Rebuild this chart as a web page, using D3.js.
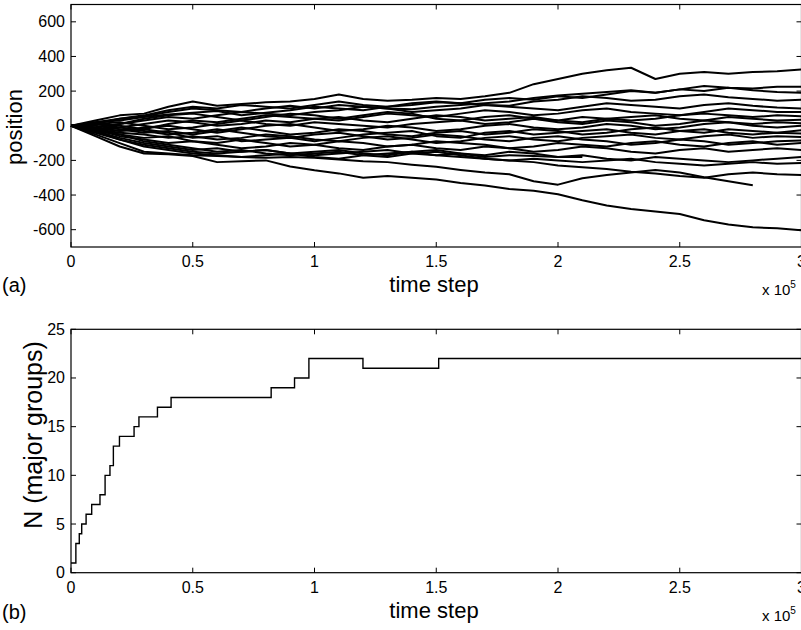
<!DOCTYPE html>
<html>
<head>
<meta charset="utf-8">
<script src="https://cdn.jsdelivr.net/npm/d3@7"></script>
<style>
  body { margin: 0; background: #fff; }
  svg { display: block; font-family: "Liberation Sans", Arial, sans-serif; }
</style>
</head>
<body>
<div id="chart"></div>
<script>
// time axis in units of 1e5 steps
const timeSteps = [0,0.1,0.2,0.3,0.4,0.5,0.6,0.7,0.8,0.9,1.0,1.1,1.2,1.3,1.4,1.5,1.6,1.7,1.8,1.9,2.0,2.1,2.2,2.3,2.4,2.5,2.6,2.7,2.8,2.9,3.0];

// (a) positions of the major groups
const walk1  = [0,30,60,70,110,140,115,125,135,140,155,180,155,145,150,160,155,170,190,240,270,300,320,335,270,300,310,300,310,315,325];
const walk2  = [0,10,40,55,80,100,90,80,100,115,100,120,110,100,95,110,120,130,140,160,175,185,195,205,190,210,200,220,205,195,190];
const walk3  = [0,20,30,50,65,75,85,60,75,90,110,100,90,110,120,135,130,120,115,140,150,170,160,145,150,170,180,165,155,145,150];
const walk4  = [0,-10,10,30,50,40,60,80,70,60,80,90,110,100,80,90,100,120,110,100,90,110,130,120,110,100,120,130,115,105,100];
const walk5  = [0,10,0,-20,10,30,20,40,60,50,40,30,50,70,60,50,70,90,80,60,70,90,100,80,70,60,80,100,90,80,80];
const walk6  = [0,-20,-10,10,30,20,0,10,30,20,40,50,30,20,40,60,50,30,40,50,30,20,40,50,60,40,30,50,40,30,35];
const walk7  = [0,10,20,0,-20,-10,10,30,10,0,20,10,0,-10,10,20,30,10,20,40,30,50,40,30,40,60,70,60,50,60,55];
const walk8  = [0,-10,-30,-10,0,-20,-40,-20,0,10,-10,-30,-20,0,-10,-30,-20,0,10,-10,-20,-10,10,0,-20,-10,10,20,0,-10,0];
const walk9  = [0,0,-20,-40,-30,-50,-30,-10,-30,-50,-40,-20,-30,-50,-60,-40,-30,-50,-40,-20,-30,-50,-40,-20,-10,-30,-40,-20,-30,-40,-25];
const walk10 = [0,-20,-40,-50,-70,-60,-80,-70,-50,-60,-80,-90,-70,-60,-80,-100,-90,-70,-60,-80,-90,-70,-60,-50,-70,-80,-60,-50,-70,-60,-65];
const walk11 = [0,-30,-50,-70,-60,-90,-100,-80,-100,-120,-110,-90,-100,-120,-110,-90,-100,-110,-130,-120,-100,-110,-120,-100,-90,-110,-120,-100,-90,-110,-100];
const walk12 = [0,-20,-60,-80,-100,-90,-110,-130,-120,-100,-110,-130,-140,-120,-110,-130,-140,-120,-130,-150,-140,-120,-130,-150,-160,-140,-130,-150,-140,-130,-140];
const walk13 = [0,-30,-70,-100,-120,-140,-130,-150,-140,-160,-150,-140,-160,-170,-150,-140,-160,-170,-150,-160,-180,-170,-190,-200,-180,-190,-200,-210,-200,-190,-180];
const walk14 = [0,-40,-80,-120,-140,-160,-170,-180,-170,-160,-180,-190,-170,-160,-150,-170,-180,-190,-200,-190,-200,-210,-200,-190,-210,-220,-230,-220,-210,-220,-215];
const walk15 = [0,-50,-100,-150,-160,-170,-175,-180,-185,-180,-185,-195,-205,-210,-225,-237,-255,-270,-280,-320,-340,-303,-285,-270,-256,-270,-297,-320,-343,null,null];
const walk16 = [0,-60,-120,-160,-165,-175,-210,-205,-200,-235,-257,-275,-300,-290,-300,-310,-330,-345,-365,-375,-395,-430,-460,-480,-495,-510,-546,-570,-586,-592,-604];
const walk17 = [0,-20,-50,-90,-110,-130,-150,-140,-160,-170,-160,-150,-170,-180,-160,-150,-170,-190,-200,-210,-230,-240,-250,-265,-275,-290,-300,-280,-270,-280,-285];
const walk18 = [0,-30,-80,-110,-130,-150,-160,-150,-140,-160,-170,-160,-150,-140,-160,-170,-160,-180,-170,-175,-180,-181,null,null,null,null,null,null,null,null,null];
const walk19 = [0,20,40,60,90,110,100,120,110,100,120,140,120,110,130,140,130,150,160,150,170,160,180,200,190,210,230,220,215,225,225];
const walk20 = [0,10,-10,-30,-50,-40,-20,-40,-60,-70,-50,-40,-60,-80,-70,-50,-60,-80,-90,-70,-60,-80,-90,-110,-100,-80,-90,-110,-100,-90,-85];
const walk21 = [0,-10,10,40,60,70,50,30,50,70,60,40,60,80,70,40,30,50,60,40,20,10,30,20,0,10,30,20,10,20,15];
const walk22 = [0,-15,-30,-20,-40,-70,-60,-90,-80,-70,-90,-70,-50,-40,-30,-60,-70,-40,-30,-50,-40,-30,-20,-40,-50,-30,-20,-40,-50,-40,-45];

const walks = [walk1,walk2,walk3,walk4,walk5,walk6,walk7,walk8,walk9,walk10,walk11,
  walk12,walk13,walk14,walk15,walk16,walk17,walk18,walk19,walk20,walk21,walk22];

// (b) number of major groups: step changes
const stepTimes  = [0,0.02,0.034,0.044,0.062,0.085,0.119,0.14,0.16,0.174,0.199,0.259,0.279,0.355,0.411,0.822,0.918,0.977,1.199,1.51,3.0];
const stepCounts = [1,3,4,5,6,7,8,10,11,13,14,15,16,17,18,19,20,22,21,22,22];

const xTicks = [0,0.5,1,1.5,2,2.5,3];
const posTicks = [-600,-400,-200,0,200,400,600];
const nTicks = [0,5,10,15,20,25];

const width = 801, height = 630;
const svg = d3.select("#chart").append("svg")
  .attr("width", width)
  .attr("height", height);

const x = d3.scaleLinear().domain([0, 3]).range([71, 801.5]);
const yA = d3.scaleLinear().domain([-700, 700]).range([247, 4.5]);
const yB = d3.scaleLinear().domain([0, 25]).range([572.7, 329.3]);

function panel(y, yTickVals, top, bottom) {
  const g = svg.append("g");
  // box
  g.append("rect")
    .attr("x", x(0)).attr("y", top)
    .attr("width", x(3) - x(0)).attr("height", bottom - top)
    .attr("fill", "none").attr("stroke", "#000").attr("stroke-width", 1.2);
  const tl = 5;
  // x ticks bottom & top, inward
  xTicks.forEach(t => {
    g.append("line").attr("x1", x(t)).attr("x2", x(t)).attr("y1", bottom).attr("y2", bottom - tl)
      .attr("stroke", "#000");
    g.append("line").attr("x1", x(t)).attr("x2", x(t)).attr("y1", top).attr("y2", top + tl)
      .attr("stroke", "#000");
    g.append("text").attr("x", x(t)).attr("y", bottom + 20)
      .attr("text-anchor", "middle").attr("font-size", 16).text(t);
  });
  yTickVals.forEach(t => {
    g.append("line").attr("x1", x(0)).attr("x2", x(0) + tl).attr("y1", y(t)).attr("y2", y(t))
      .attr("stroke", "#000");
    g.append("line").attr("x1", x(3)).attr("x2", x(3) - tl).attr("y1", y(t)).attr("y2", y(t))
      .attr("stroke", "#000");
    g.append("text").attr("x", x(0) - 6).attr("y", y(t) + 5.5)
      .attr("text-anchor", "end").attr("font-size", 16).text(t);
  });
  // x label and exponent
  g.append("text").attr("x", 434).attr("y", bottom + 45)
    .attr("text-anchor", "middle").attr("font-size", 22).text("time step");
  const ex = g.append("text").attr("x", 762).attr("y", bottom + 48).attr("font-size", 15);
  ex.append("tspan").text("x 10");
  ex.append("tspan").attr("dy", -7).attr("font-size", 10).text("5");
  return g;
}

// (a)
const gA = panel(yA, posTicks, 4.5, 247);
const lineA = d3.line()
  .defined(d => d[1] !== null)
  .x(d => x(d[0]))
  .y(d => yA(d[1]));
gA.append("g").selectAll("path")
  .data(walks)
  .enter()
  .append("path")
    .attr("d", w => lineA(w.map((v, i) => [timeSteps[i], v])))
    .attr("fill", "none")
    .attr("stroke", "#000")
    .attr("stroke-width", 2)
    .attr("stroke-linejoin", "round");
svg.append("text").attr("x", 2).attr("y", 292).attr("font-size", 20).text("(a)");
svg.append("text")
  .attr("transform", "translate(22,127) rotate(-90)")
  .attr("text-anchor", "middle").attr("font-size", 22).text("position");

// (b)
const gB = panel(yB, nTicks, 329.3, 572.7);
const lineB = d3.line()
  .curve(d3.curveStepAfter)
  .x(d => x(d[0]))
  .y(d => yB(d[1]));
gB.append("path")
  .attr("d", lineB(stepTimes.map((t, i) => [t, stepCounts[i]])))
  .attr("fill", "none")
  .attr("stroke", "#000")
  .attr("stroke-width", 1.4);
svg.append("text").attr("x", 2).attr("y", 619).attr("font-size", 20).text("(b)");
svg.append("text")
  .attr("transform", "translate(42,435) rotate(-90)")
  .attr("text-anchor", "middle").attr("font-size", 25).text("N (major groups)");
</script>
</body>
</html>
